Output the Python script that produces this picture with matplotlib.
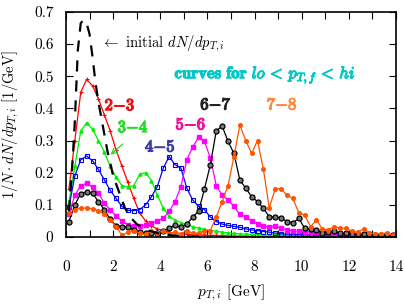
import numpy as np
import matplotlib
matplotlib.use("Agg")
import matplotlib.pyplot as plt
import matplotlib.patheffects as pe
from matplotlib.ticker import MultipleLocator, FormatStrFormatter

plt.rcParams['font.family'] = 'serif'
plt.rcParams['font.serif'] = ['cmr10', 'DejaVu Serif']
plt.rcParams['mathtext.fontset'] = 'cm'
plt.rcParams['axes.unicode_minus'] = False

# bin centers (GeV)
pt_bins = np.arange(0.125, 14.0, 0.25)

red_23 = [0.15,0.30,0.45,0.49,0.47,0.43,0.38,0.33, 0.27,0.22,0.17,0.12,0.075,0.05,0.035,0.025,
          0.02,0.015,0.012,0.01,0.009,0.008,0.007,0.006, 0.005,0.005,0.004,0.004,0.003,0.003,0.003,0.002,
          0.002,0.002,0.002,0.002,0.002,0.001,0.001,0.002, 0.001,0.001,0.001,0.001,0.001,0.001,0.001,0.001,
          0.001,0.001,0.001,0.001,0.001,0.001,0.001,0.001]
green_34 = [0.11,0.22,0.33,0.355,0.335,0.30,0.265,0.22, 0.185,0.16,0.155,0.16,0.195,0.20,0.175,0.13,
            0.09,0.065,0.052,0.045,0.038,0.032,0.028,0.024, 0.02,0.018,0.015,0.013,0.011,0.01,0.009,0.008,
            0.007,0.007,0.006,0.006,0.005,0.005,0.004,0.004, 0.004,0.003,0.003,0.003,0.003,0.002,0.002,0.002,
            0.002,0.002,0.002,0.002,0.001,0.001,0.001,0.001]
blue_45 = [0.094,0.19,0.24,0.252,0.237,0.21,0.178,0.145, 0.12,0.095,0.083,0.082,0.085,0.10,0.125,0.157,
           0.214,0.25,0.225,0.214,0.152,0.115,0.095,0.085, 0.062,0.048,0.04,0.036,0.033,0.03,0.025,0.022,
           0.02,0.017,0.015,0.012,0.01,0.009,0.008,0.008, 0.007,0.007,0.006,0.006,0.006,0.005,0.005,0.005,
           0.004,0.004,0.004,0.004,0.003,0.003,0.003,0.003]
magenta_56 = [0.07,0.13,0.16,0.167,0.155,0.136,0.105,0.085, 0.065,0.05,0.038,0.033,0.033,0.037,0.042,0.05,
              0.058,0.08,0.11,0.157,0.24,0.28,0.31,0.297, 0.245,0.16,0.13,0.115,0.095,0.07,0.063,0.05,
              0.04,0.033,0.032,0.033,0.028,0.022,0.02,0.018, 0.017,0.015,0.014,0.013,0.012,0.011,0.01,0.009,
              0.009,0.008,0.008,0.007,0.007,0.006,0.006,0.005]
black_67 = [0.048,0.1,0.135,0.14,0.136,0.11,0.085,0.055, 0.035,0.032,0.03,0.022,0.014,0.012,0.012,0.013,
            0.02,0.027,0.037,0.03,0.04,0.062,0.08,0.15, 0.225,0.33,0.345,0.297,0.26,0.177,0.152,0.125,
            0.11,0.089,0.063,0.061,0.06,0.048,0.044,0.058, 0.027,0.024,0.023,0.013,0.015,0.02,0.011,0.011,
            0.01,0.008,0.008,0.008,0.007,0.007,0.007,0.006]
orange_78 = [0.075,0.085,0.09,0.09,0.088,0.082,0.07,0.053, 0.032,0.005,0.015,0.02,0.012,0.008,0.018,0.012,
             0.02,0.01,0.015,0.01,0.02,0.012,0.012,0.02, 0.02,0.063,0.11,0.16,0.25,0.348,0.30,0.26,
             0.30,0.21,0.09,0.15,0.15,0.13,0.12,0.075, 0.068,0.032,0.053,0.025,0.022,0.032,0.028,0.027,
             0.018,0.015,0.025,0.012,0.01,0.01,0.012,0.005]

init_x = [0.125, 0.25, 0.375, 0.5, 0.625, 0.75, 0.875, 1.0, 1.125, 1.25, 1.375, 1.5, 1.625, 1.75,
          1.875, 2.0, 2.25, 2.5, 2.75, 3.0, 3.25, 3.5, 4.0, 4.5, 5.0, 6.0]
init_y = [0.08, 0.2, 0.36, 0.58, 0.665, 0.675, 0.665, 0.63, 0.56, 0.48, 0.42, 0.37, 0.32, 0.27,
          0.23, 0.19, 0.14, 0.09, 0.06, 0.04, 0.03, 0.02, 0.01, 0.005, 0.002, 0.001]

fig = plt.figure(figsize=(4.04, 3.05), dpi=100)
ax = fig.add_axes([0.1634, 0.223, 0.8168, 0.738])

lw = 0.9
ax.plot(pt_bins, red_23, color='#ff0000', lw=lw, marker='+', ms=3, mew=0.8)
ax.plot(pt_bins, green_34, color='#00ee00', lw=lw, marker='^', ms=2.2)
ax.plot(pt_bins, blue_45, color='#0000ff', lw=lw, marker='s', ms=3.2, mfc='none', mew=0.8)
ax.plot(pt_bins, magenta_56, color='#ff00ff', lw=lw, marker='s', ms=2.5)
ax.plot(pt_bins, black_67, color='#000000', lw=lw, marker='o', ms=3.6, mfc='#777777', mew=0.9)
ax.plot(pt_bins, orange_78, color='#ff5500', lw=lw, marker='o', ms=2.6)
ax.plot(init_x, init_y, color='black', lw=1.6, dashes=(5, 4))

ax.set_xlim(0, 14)
ax.set_ylim(0, 0.7)
ax.xaxis.set_major_locator(MultipleLocator(2))
ax.xaxis.set_minor_locator(MultipleLocator(1))
ax.yaxis.set_major_locator(MultipleLocator(0.1))
ax.yaxis.set_major_formatter(FormatStrFormatter('%g'))
ax.tick_params(which='both', direction='in', top=True, right=True, length=5, width=0.8,
               labelsize=11)
ax.tick_params(axis='x', which='major', pad=17)
ax.tick_params(axis='y', which='major', pad=9)
for s in ax.spines.values():
    s.set_linewidth(1.2)

ax.set_xlabel(r'$p_{T,i}$ [GeV]', fontsize=11, labelpad=6)
ax.set_ylabel(r'$1/N\cdot dN/dp_{T,i}$ [1/GeV]', fontsize=10.5, labelpad=9)

ax.text(1.5, 0.60, r'$\leftarrow$ initial $dN/dp_{T,i}$', fontsize=10.5, va='center', ha='left')
ax.text(4.6, 0.505, r'$\mathbf{curves\ for}\ lo\,<\,p_{T,f}\,<\,hi$',
        fontsize=12, color='#00c8c8', va='center', ha='left',
        path_effects=[pe.withStroke(linewidth=0.8, foreground='#00c8c8')])

lab = dict(fontsize=12, ha='center', va='center')
for xt, yt, txt, col in [(2.29, 0.41, '2-3', '#ee1111'), (2.85, 0.342, '3-4', '#22dd22'),
                         (4.0, 0.283, '4-5', '#3a3aa8'), (5.3, 0.352, '5-6', '#ee1199'),
                         (6.36, 0.414, '6-7', '#222222'), (9.17, 0.414, '7-8', '#ff8844')]:
    a, b = txt.split('-')
    ax.text(xt, yt, r'$\mathbf{%s}{-}\mathbf{%s}$' % (a, b), color=col, **lab,
            path_effects=[pe.withStroke(linewidth=0.9, foreground=col)])

ax.annotate('', xy=(1.8, 0.25), xytext=(2.5, 0.295),
            arrowprops=dict(arrowstyle='->', color='#22dd22', lw=0.9))

fig.savefig('out.png', dpi=100)
